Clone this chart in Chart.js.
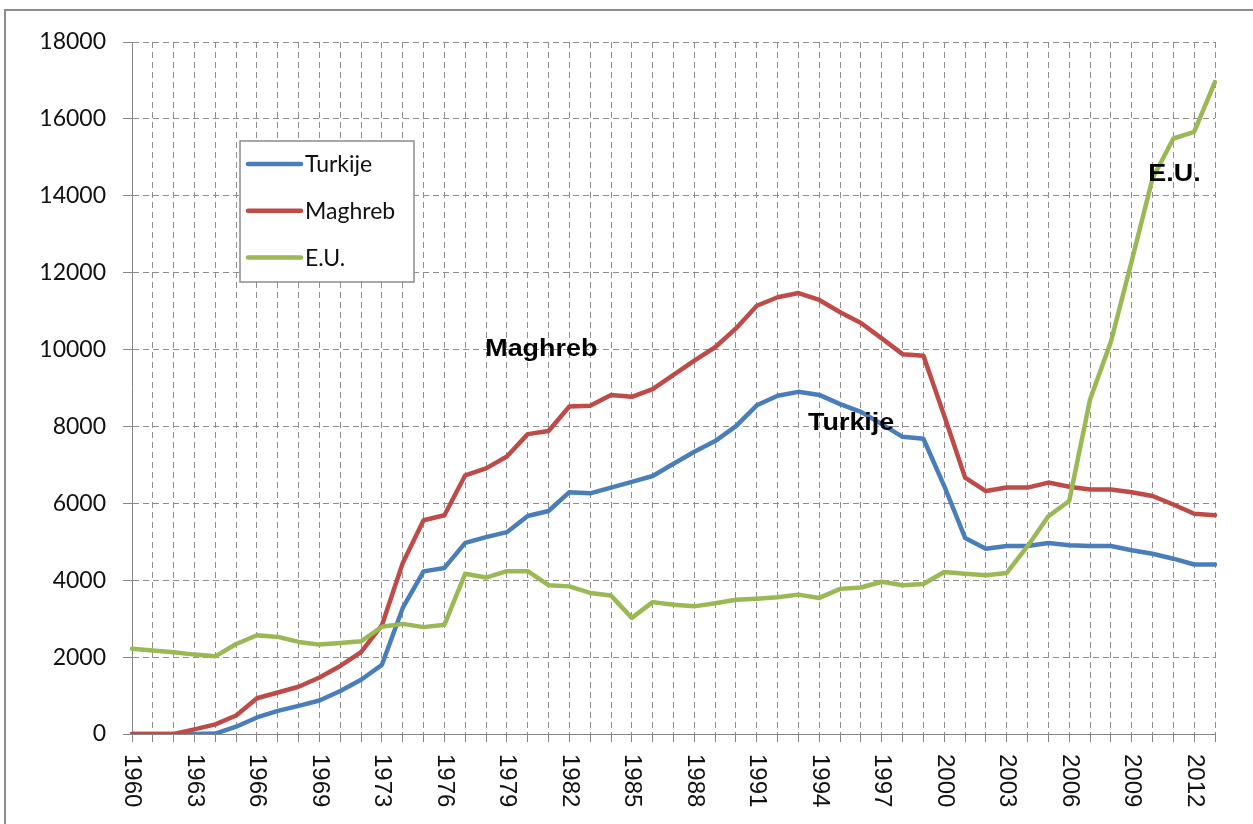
<!DOCTYPE html>
<html>
<head>
<meta charset="utf-8">
<script src="https://cdn.jsdelivr.net/npm/chart.js@4/dist/chart.umd.min.js"></script>
<style>
  html, body { margin: 0; padding: 0; background: #fff; overflow: hidden; }
  #frame { position: absolute; left: 4px; top: 9px; width: 1400px; height: 1000px; border: 2px solid #8c8c8c; }
  #wrap { position: absolute; left: 0; top: 0; width: 1253px; height: 824px; }
</style>
</head>
<body>
<div id="frame"></div>
<div id="wrap"><canvas id="migChart" width="1253" height="824"></canvas></div>
<script>
// years on the category axis (one year is missing in the source table)
const years = [
  1960, 1961, 1962, 1963, 1964, 1965, 1966, 1967, 1968, 1969,
  1970, 1971, 1973, 1974, 1975, 1976, 1977, 1978, 1979, 1980,
  1981, 1982, 1983, 1984, 1985, 1986, 1987, 1988, 1989, 1990,
  1991, 1992, 1993, 1994, 1995, 1996, 1997, 1998, 1999, 2000,
  2001, 2002, 2003, 2004, 2005, 2006, 2007, 2008, 2009, 2010,
  2011, 2012, 2013
];

const turkije = [
  0, 0, 0, 0, 10, 190, 430, 600, 730, 870,
  1120, 1410, 1800, 3280, 4230, 4320, 4970, 5120, 5250, 5670,
  5800, 6290, 6260, 6410, 6560, 6710, 7030, 7340, 7620, 8010,
  8550, 8800, 8900, 8820, 8580, 8380, 8060, 7730, 7680, 6450,
  5100, 4820, 4890, 4890, 4970, 4910, 4890, 4890, 4780, 4690,
  4560, 4410, 4410
];

const maghreb = [
  0, 0, 0, 120, 250, 480, 930, 1080, 1230, 1470,
  1770, 2130, 2830, 4450, 5560, 5690, 6730, 6910, 7220, 7800,
  7880, 8520, 8540, 8820, 8770, 8970, 9340, 9710, 10060, 10550,
  11140, 11360, 11470, 11290, 10970, 10690, 10290, 9880, 9840, 8280,
  6670, 6320, 6410, 6410, 6540, 6430, 6360, 6360, 6290, 6190,
  5970, 5730, 5690
];

const eu = [
  2220, 2170, 2125, 2065, 2020, 2340, 2570, 2525, 2395, 2325,
  2370, 2410, 2790, 2865, 2780, 2840, 4170, 4070, 4235, 4235,
  3870, 3840, 3670, 3600, 3020, 3430, 3360, 3320, 3400, 3490,
  3520, 3555, 3625, 3540, 3775, 3810, 3960, 3870, 3900, 4215,
  4170, 4130, 4190, 4885, 5665, 6060, 8700, 10200, 12300, 14450,
  15490, 15660, 16960
];

const seriesNames = ["Turkije", "Maghreb", "E.U."];
const seriesColors = ["#4A7EBB", "#BE4B48", "#98B954"];

// text labels written inside the plot (category index, value)
const noteTexts = ["Maghreb", "Turkije", "E.U."];
const noteIndex = [16.96, 32.46, 48.8];
const noteValue = [9990, 8060, 14540];

const gridGrey = "#8e8e8e";
const axisGrey = "#868686";

const xLabelsPlugin = {
  id: "xLabels",
  afterDraw(chart) {
    const ctx = chart.ctx;
    const xs = chart.scales.x;
    const top = chart.chartArea.bottom + 20;
    ctx.save();
    ctx.fillStyle = "#111";
    ctx.font = "24px 'Liberation Sans', Arial, sans-serif";
    ctx.textAlign = "left";
    ctx.textBaseline = "middle";
    for (let i = 0; i < years.length; i += 3) {
      const x = xs.getPixelForValue(i);
      ctx.save();
      ctx.translate(x, top);
      ctx.rotate(Math.PI / 2);
      ctx.fillText(String(years[i]), 0, 0);
      ctx.restore();
    }
    ctx.restore();
  }
};

const notesPlugin = {
  id: "notes",
  afterDatasetsDraw(chart) {
    const ctx = chart.ctx;
    const xs = chart.scales.x, ys = chart.scales.y;
    ctx.save();
    ctx.fillStyle = "#000";
    ctx.font = "bold 23px 'Liberation Sans', Arial, sans-serif";
    ctx.textAlign = "left";
    ctx.textBaseline = "middle";
    noteTexts.forEach((t, i) => {
      const x = xs.getPixelForValue(noteIndex[i]);
      const y = ys.getPixelForValue(noteValue[i]);
      ctx.save();
      ctx.translate(x, y);
      ctx.scale(1.17, 1);
      ctx.fillText(t, 0, 0);
      ctx.restore();
    });
    ctx.restore();
  }
};

const legendPlugin = {
  id: "boxLegend",
  afterDatasetsDraw(chart) {
    const ctx = chart.ctx;
    const left = 240, top = 141, w = 174, h = 141;
    ctx.save();
    ctx.fillStyle = "#fff";
    ctx.fillRect(left, top, w, h);
    ctx.strokeStyle = "#8c8c8c";
    ctx.lineWidth = 1.5;
    ctx.strokeRect(left, top, w, h);
    ctx.font = "23px Lato, 'Noto Sans', sans-serif";
    ctx.textBaseline = "middle";
    ctx.textAlign = "left";
    chart.data.datasets.forEach((ds, i) => {
      const y = top + 23 + i * 46.7;
      ctx.strokeStyle = ds.borderColor;
      ctx.lineWidth = 4.5;
      ctx.lineCap = "round";
      ctx.beginPath();
      ctx.moveTo(left + 8, y);
      ctx.lineTo(left + 61, y);
      ctx.stroke();
      ctx.fillStyle = "#111";
      ctx.fillText(ds.label, left + 65, y + 1);
    });
    ctx.restore();
  }
};

const ctx = document.getElementById("migChart").getContext("2d");

new Chart(ctx, {
  type: "line",
  data: {
    labels: years.map(String),
    datasets: [
      { label: seriesNames[0], data: turkije, borderColor: seriesColors[0], order: 2 },
      { label: seriesNames[1], data: maghreb, borderColor: seriesColors[1], order: 1 },
      { label: seriesNames[2], data: eu, borderColor: seriesColors[2], order: 0 }
    ]
  },
  options: {
    responsive: false,
    animation: false,
    devicePixelRatio: 1,
    layout: { padding: { left: 0, top: 42, right: 38, bottom: 0 } },
    elements: {
      line: { borderWidth: 4.5, tension: 0, fill: false, borderCapStyle: "round", borderJoinStyle: "round" },
      point: { radius: 0, hoverRadius: 0 }
    },
    plugins: {
      legend: { display: false },
      tooltip: { enabled: false }
    },
    scales: {
      x: {
        type: "category",
        offset: false,
        ticks: { display: false },
        grid: { color: gridGrey, lineWidth: 1, tickLength: 8, tickColor: axisGrey, tickWidth: 1 },
        border: { color: axisGrey, width: 1, dash: [6, 4] },
        afterFit(scale) { scale.height = 90; }
      },
      y: {
        min: 0,
        max: 18000,
        ticks: {
          stepSize: 2000,
          color: "#111",
          padding: 17,
          font: { family: "Lato, 'Noto Sans', sans-serif", size: 23 },
          callback: (v) => String(v)
        },
        grid: { color: gridGrey, lineWidth: 1, tickLength: 9, tickColor: axisGrey, tickWidth: 1 },
        border: { color: axisGrey, width: 1, dash: [6, 4] },
        afterFit(scale) { scale.width = 132; }
      }
    }
  },
  plugins: [xLabelsPlugin, legendPlugin, notesPlugin]
});
</script>
</body>
</html>
